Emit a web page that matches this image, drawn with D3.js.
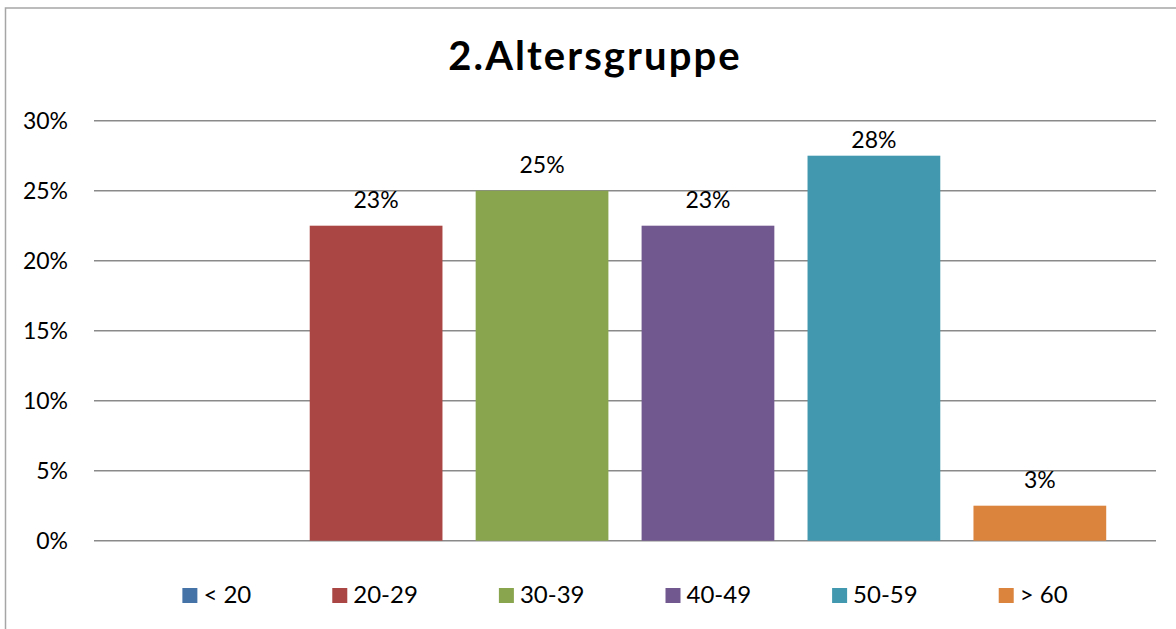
<!DOCTYPE html>
<html>
<head>
<meta charset="utf-8">
<script src="https://cdn.jsdelivr.net/npm/d3@7"></script>
<style>
  body { margin: 0; background: #fff; }
  svg { display: block; }
</style>
</head>
<body>
<svg class="ageSVG" width="1176" height="629"></svg>
<script>
// age groups and their share of respondents (percent)
const groups = ['< 20', '20-29', '30-39', '40-49', '50-59', '> 60'];
const shares = [0, 22.5, 25, 22.5, 27.5, 2.5];
const barLabels = ['', '23%', '25%', '23%', '28%', '3%'];
const yTicks = [0, 5, 10, 15, 20, 25, 30];
const colours = ['#4572A7', '#AA4643', '#89A54E', '#71588F', '#4198AF', '#DB843D'];

function drawAges(){
    const svg = d3.select('svg.ageSVG');
    const font = "Lato, 'Open Sans', sans-serif";

    // outer chart frame
    svg.append('rect')
      .attr('x', 5.5).attr('y', 8)
      .attr('width', 1200).attr('height', 700)
      .style('fill', 'none')
      .style('stroke', '#a6a6a6')
      .style('stroke-width', 1.5);

    svg.append('text')
      .text('2.Altersgruppe')
      .attr('x', 595).attr('y', 70)
      .style('text-anchor', 'middle')
      .style('font-family', font)
      .style('font-weight', 700)
      .style('font-size', '40px')
      .style('letter-spacing', '2.1px')
      .style('fill', '#000');

    const left = 94, right = 1156;
    let x = d3.scaleBand()
              .domain(groups)
              .range([left, right])
              .paddingInner(0.2)
              .paddingOuter(0.3);

    let y = d3.scaleLinear()
              .domain([0, 30])
              .range([540.7, 120.7]);

    let colScale = d3.scaleOrdinal().domain(groups).range(colours);

    // gridlines
    svg.append('g')
      .selectAll('line')
      .data(yTicks)
      .enter()
      .append('line')
      .attr('x1', left).attr('x2', right)
      .attr('y1', d => y(d)).attr('y2', d => y(d))
      .style('stroke', '#8a8a8a')
      .style('stroke-width', 1.5);

    svg.append('g')
      .selectAll('text')
      .data(yTicks)
      .enter()
      .append('text')
      .text(d => d + '%')
      .attr('x', 68)
      .attr('y', d => y(d) + 8)
      .style('text-anchor', 'end')
      .style('font-family', font)
      .style('font-size', '23px')
      .style('fill', '#000');

    // bars
    svg.append('g')
      .selectAll('rect')
      .data(groups)
      .enter()
      .append('rect')
      .attr('x', d => x(d))
      .attr('width', x.bandwidth())
      .attr('y', (d, i) => y(shares[i]))
      .attr('height', (d, i) => y(0) - y(shares[i]))
      .style('fill', d => colScale(d));

    // value labels, kept inside the plot area like excel does
    svg.append('g')
      .selectAll('text')
      .data(groups)
      .enter()
      .append('text')
      .text((d, i) => barLabels[i])
      .attr('x', d => x(d) + x.bandwidth() / 2)
      .attr('y', (d, i) => Math.max(y(shares[i]) - 18, y(30) + 27))
      .style('text-anchor', 'middle')
      .style('font-family', font)
      .style('font-size', '23px')
      .style('fill', '#000');

    // legend, entries flow left to right and the whole row is centred
    const gap = 81;
    const legend = svg.append('g');
    const items = legend.selectAll('g')
      .data(groups)
      .enter()
      .append('g');

    items.append('rect')
      .attr('width', 15).attr('height', 15)
      .style('fill', d => colScale(d));

    items.append('text')
      .text(d => d)
      .attr('x', 21).attr('y', 15)
      .style('font-family', font)
      .style('font-size', '24px')
      .style('fill', '#000');

    let pos = 0;
    items.each(function(){
      const w = d3.select(this).select('text').node().getComputedTextLength();
      d3.select(this).attr('transform', `translate(${pos},0)`);
      pos += 21 + w + gap;
    });
    const total = pos - gap;
    legend.attr('transform', `translate(${(left + right) / 2 - total / 2},588)`);
}

drawAges();
</script>
</body>
</html>
